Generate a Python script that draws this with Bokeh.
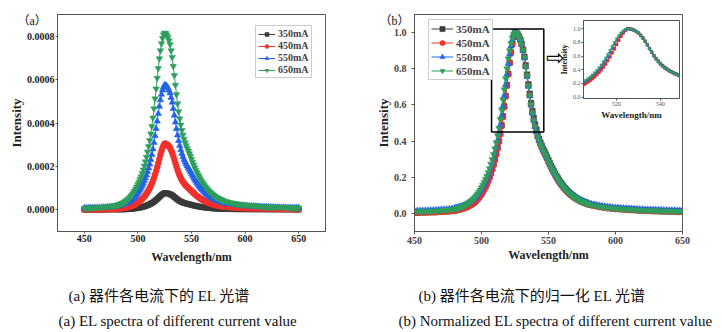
from bokeh.plotting import figure
from bokeh.models import (Range1d, Legend, LegendItem, Label, FixedTicker,
                          PrintfTickFormatter, ColumnDataSource, GridBox)
from bokeh.embed import file_html
from bokeh.resources import INLINE

# ---------------- data ----------------
wl_left_tail = list(range(450, 480, 2))
wl_mid = list(range(480, 581))
wl_right_tail = list(range(582, 651, 2))
wavelength = wl_left_tail + wl_mid + wl_right_tail

currents = ["350mA", "450mA", "550mA", "650mA"]
peak_intensity = [0.000077, 0.000305, 0.000575, 0.000815]

# normalized EL spectra (right panel); raw spectra = normalized * peak intensity
norm_350 = [
    0.005, 0.005, 0.006, 0.006, 0.006, 0.007, 0.007, 0.008, 0.008, 0.009, 0.010, 0.011, 0.012, 0.013, 0.015,
    0.017, 0.018, 0.020, 0.022, 0.024, 0.026, 0.028, 0.031, 0.034, 0.037,
    0.041, 0.045, 0.049, 0.054, 0.059, 0.065, 0.072, 0.080, 0.089, 0.099,
    0.110, 0.122, 0.135, 0.149, 0.165, 0.183, 0.202, 0.223, 0.246, 0.272,
    0.300, 0.331, 0.364, 0.401, 0.442, 0.487, 0.537, 0.592, 0.650, 0.710,
    0.772, 0.833, 0.890, 0.938, 0.976, 1.000, 0.998, 0.991, 0.978, 0.960,
    0.938, 0.905, 0.867, 0.819, 0.768, 0.714, 0.662, 0.611, 0.566, 0.527,
    0.492, 0.462, 0.435, 0.412, 0.392, 0.374, 0.357, 0.342, 0.326, 0.310,
    0.294, 0.278, 0.262, 0.247, 0.233, 0.219, 0.206, 0.194, 0.182, 0.171,
    0.161, 0.151, 0.142, 0.134, 0.126, 0.118, 0.111, 0.105, 0.099, 0.093,
    0.088, 0.083, 0.078, 0.074, 0.070, 0.066, 0.063, 0.060, 0.057, 0.054,
    0.052,
    0.048, 0.045, 0.042, 0.039, 0.036, 0.034, 0.032, 0.030, 0.028, 0.027,
    0.026, 0.025, 0.024, 0.023, 0.022, 0.021, 0.020, 0.019, 0.018, 0.017,
    0.016, 0.016, 0.015, 0.015, 0.014, 0.014, 0.013, 0.013, 0.012, 0.012,
    0.011, 0.011, 0.011, 0.010, 0.010,
]
norm_450 = [
    0.004, 0.004, 0.005, 0.005, 0.005, 0.006, 0.006, 0.007, 0.007, 0.008, 0.009, 0.010, 0.011, 0.012, 0.014,
    0.016, 0.017, 0.019, 0.021, 0.023, 0.025, 0.027, 0.030, 0.033, 0.036,
    0.040, 0.044, 0.048, 0.053, 0.058, 0.064, 0.071, 0.079, 0.088, 0.098,
    0.109, 0.121, 0.134, 0.148, 0.163, 0.180, 0.199, 0.220, 0.243, 0.268,
    0.296, 0.326, 0.359, 0.396, 0.437, 0.482, 0.532, 0.587, 0.645, 0.705,
    0.768, 0.830, 0.888, 0.937, 0.975, 1.000, 0.998, 0.990, 0.977, 0.958,
    0.935, 0.901, 0.862, 0.813, 0.761, 0.706, 0.653, 0.601, 0.556, 0.516,
    0.481, 0.450, 0.423, 0.400, 0.380, 0.362, 0.346, 0.331, 0.316, 0.300,
    0.284, 0.268, 0.252, 0.237, 0.223, 0.210, 0.197, 0.185, 0.174, 0.163,
    0.153, 0.144, 0.135, 0.127, 0.119, 0.112, 0.105, 0.099, 0.093, 0.088,
    0.083, 0.078, 0.074, 0.070, 0.066, 0.063, 0.060, 0.057, 0.054, 0.051,
    0.049,
    0.045, 0.042, 0.039, 0.036, 0.034, 0.032, 0.030, 0.028, 0.026, 0.025,
    0.024, 0.023, 0.022, 0.021, 0.020, 0.019, 0.018, 0.017, 0.016, 0.016,
    0.015, 0.014, 0.014, 0.013, 0.013, 0.012, 0.012, 0.011, 0.011, 0.010,
    0.010, 0.010, 0.009, 0.009, 0.009,
]
norm_550 = [
    0.015, 0.015, 0.015, 0.016, 0.016, 0.017, 0.017, 0.018, 0.019, 0.020, 0.021, 0.022, 0.023, 0.025, 0.027,
    0.029, 0.031, 0.033, 0.035, 0.037, 0.039, 0.042, 0.045, 0.048, 0.052,
    0.056, 0.061, 0.066, 0.072, 0.078, 0.085, 0.093, 0.102, 0.112, 0.123,
    0.135, 0.148, 0.162, 0.177, 0.194, 0.212, 0.232, 0.254, 0.278, 0.305,
    0.334, 0.366, 0.402, 0.442, 0.487, 0.538, 0.593, 0.650, 0.710, 0.770,
    0.828, 0.880, 0.925, 0.960, 0.985, 1.000, 0.998, 0.990, 0.977, 0.958,
    0.935, 0.900, 0.860, 0.810, 0.757, 0.702, 0.649, 0.598, 0.553, 0.514,
    0.480, 0.451, 0.425, 0.403, 0.384, 0.367, 0.351, 0.337, 0.322, 0.306,
    0.290, 0.274, 0.258, 0.243, 0.229, 0.216, 0.203, 0.191, 0.180, 0.170,
    0.160, 0.151, 0.142, 0.134, 0.126, 0.119, 0.112, 0.106, 0.100, 0.095,
    0.090, 0.085, 0.081, 0.077, 0.073, 0.070, 0.067, 0.064, 0.061, 0.058,
    0.056,
    0.052, 0.049, 0.046, 0.043, 0.041, 0.039, 0.037, 0.035, 0.033, 0.032,
    0.031, 0.030, 0.029, 0.028, 0.027, 0.026, 0.025, 0.024, 0.023, 0.023,
    0.022, 0.021, 0.021, 0.020, 0.020, 0.019, 0.019, 0.018, 0.018, 0.017,
    0.017, 0.017, 0.016, 0.016, 0.016,
]
norm_650 = [
    0.010, 0.010, 0.010, 0.011, 0.011, 0.012, 0.012, 0.013, 0.014, 0.015, 0.016, 0.017, 0.019, 0.021, 0.023,
    0.025, 0.027, 0.029, 0.031, 0.033, 0.036, 0.039, 0.042, 0.046, 0.050,
    0.055, 0.060, 0.066, 0.073, 0.080, 0.088, 0.097, 0.107, 0.118, 0.130,
    0.143, 0.157, 0.172, 0.188, 0.206, 0.226, 0.248, 0.272, 0.298, 0.327,
    0.358, 0.392, 0.430, 0.472, 0.520, 0.572, 0.628, 0.684, 0.745, 0.800,
    0.855, 0.900, 0.940, 0.970, 0.990, 1.000, 0.997, 0.988, 0.975, 0.957,
    0.935, 0.900, 0.862, 0.812, 0.760, 0.705, 0.652, 0.600, 0.555, 0.515,
    0.480, 0.450, 0.423, 0.400, 0.380, 0.363, 0.347, 0.333, 0.318, 0.302,
    0.286, 0.270, 0.254, 0.239, 0.225, 0.212, 0.199, 0.187, 0.176, 0.165,
    0.155, 0.146, 0.137, 0.129, 0.121, 0.114, 0.107, 0.101, 0.095, 0.090,
    0.085, 0.080, 0.076, 0.072, 0.068, 0.065, 0.062, 0.059, 0.056, 0.053,
    0.051,
    0.047, 0.044, 0.041, 0.038, 0.036, 0.034, 0.032, 0.030, 0.028, 0.027,
    0.026, 0.025, 0.024, 0.023, 0.022, 0.021, 0.020, 0.019, 0.018, 0.018,
    0.017, 0.016, 0.016, 0.015, 0.015, 0.014, 0.014, 0.013, 0.013, 0.012,
    0.012, 0.012, 0.011, 0.011, 0.011,
]
normalized = [norm_350, norm_450, norm_550, norm_650]
for n in normalized:
    assert len(n) == len(wavelength), (len(n), len(wavelength))

raw = [[v * pk for v in n] for n, pk in zip(normalized, peak_intensity)]

# zoomed region shown by the black box and the inset
zoom_wavelength = [507.5, 546.5]
zoom_intensity = [0.45, 1.02]

x_ticks = [450, 500, 550, 600, 650]
ya_ticks = [0.0, 0.0002, 0.0004, 0.0006, 0.0008]
yb_ticks = [0.0, 0.2, 0.4, 0.6, 0.8, 1.0]
inset_x_ticks = [520, 540]

caption_a = ["(a) 器件各电流下的 EL 光谱", "(a) EL spectra of different current value"]
caption_b = ["(b) 器件各电流下的归一化 EL 光谱", "(b) Normalized EL spectra of different current value"]

# ---------------- style ----------------
SERIF = "Liberation Serif"
MIXED = "Liberation Serif, Noto Sans CJK SC"
AXC = "#555555"
colors = ["#3a3a3a", "#f2302b", "#2063e8", "#2f9e5c"]
markers = ["square", "circle", "triangle", "inverted_triangle"]


def style_axes(p, tick_font, label_font, tick_color, tick_out, standoff, label_standoff):
    p.grid.visible = False
    p.outline_line_color = AXC
    p.outline_line_width = 1
    p.background_fill_color = "white"
    for ax in (p.xaxis[0], p.yaxis[0]):
        ax.axis_line_color = AXC
        ax.major_tick_line_color = AXC
        ax.major_tick_in = 0
        ax.major_tick_out = tick_out
        ax.minor_tick_line_color = None
        ax.major_label_text_font = SERIF
        ax.major_label_text_font_style = "bold"
        ax.major_label_text_font_size = tick_font
        ax.major_label_text_color = tick_color
        ax.major_label_standoff = standoff
        ax.axis_label_text_font = SERIF
        ax.axis_label_text_font_style = "bold"
        ax.axis_label_text_font_size = label_font
        ax.axis_label_text_color = "#222222"
        ax.axis_label_standoff = label_standoff


def add_series(p, ys, sizes, lw):
    out = []
    for i in range(4):
        src = ColumnDataSource(dict(x=wavelength, y=ys[i]))
        ln = p.line("x", "y", source=src, line_color=colors[i], line_width=lw)
        sc = p.scatter("x", "y", source=src, marker=markers[i], size=sizes[i],
                       fill_color=colors[i], line_color=colors[i], line_width=0.5)
        out.append((ln, sc))
    return out


def add_legend(p, rends, loc, font, gw, gh, spacing, padding):
    items = [LegendItem(label=currents[i], renderers=list(rends[i])) for i in range(4)]
    lg = Legend(items=items, location=loc, label_text_font=SERIF, label_text_font_style="bold",
                label_text_font_size=font, glyph_width=gw, glyph_height=gh, label_height=gh,
                spacing=spacing, padding=padding, margin=0, label_standoff=3,
                border_line_color="#999999", border_line_width=1, background_fill_alpha=1)
    p.add_layout(lg)


# ---------------- panel (a) ----------------
pa = figure(width=360, height=332, x_range=Range1d(425, 675), y_range=Range1d(-0.0001, 0.0009),
            output_backend="svg", toolbar_location=None,
            min_border_left=57, min_border_right=35, min_border_top=14, min_border_bottom=100)
style_axes(pa, "10px", "13px", "#222222", 2, 1, 0)
pa.xaxis.axis_label_standoff = 5
pa.xaxis.axis_label_text_font_size = "12px"
pa.xaxis.axis_label = "Wavelength/nm"
pa.yaxis.axis_label = "Intensity"
pa.xaxis.ticker = FixedTicker(ticks=x_ticks)
pa.yaxis.ticker = FixedTicker(ticks=ya_ticks)
pa.yaxis.formatter = PrintfTickFormatter(format="%.4f")
ra = add_series(pa, raw, [5, 6, 6.5, 6.5], 1)
add_legend(pa, ra, (198, 153), "10px", 17, 10, 1, 2)

# ---------------- panel (b) ----------------
pb = figure(width=362, height=332, x_range=Range1d(450, 650), y_range=Range1d(-0.1, 1.1),
            output_backend="svg", toolbar_location=None,
            min_border_left=54, min_border_right=40, min_border_top=14, min_border_bottom=101)
style_axes(pb, "10px", "13px", "#444444", 3, 5, 0)
pb.xaxis.major_label_standoff = 2
pb.xaxis.axis_label_standoff = 1
pb.xaxis.axis_label_text_font_size = "12px"
pb.xaxis.axis_label = "Wavelength/nm"
pb.yaxis.axis_label = "Intensity"
pb.xaxis.ticker = FixedTicker(ticks=x_ticks)
pb.yaxis.ticker = FixedTicker(ticks=yb_ticks)
pb.yaxis.formatter = PrintfTickFormatter(format="%.1f")
rb = add_series(pb, normalized, [5.5, 6, 6.5, 6.5], 1)
add_legend(pb, rb, (14, 151), "11px", 22, 13, 1, 2)
pb.quad(left=[zoom_wavelength[0]], right=[zoom_wavelength[1]],
        bottom=[zoom_intensity[0]], top=[zoom_intensity[1]],
        fill_alpha=0, line_color="black", line_width=1.5)
pb.add_layout(Label(x=555, y=0.86, text="⇨", text_font="DejaVu Sans", text_font_size="22px",
                    text_align="center", text_baseline="middle", text_color="black"))

# ---------------- inset ----------------
pi = figure(width=125, height=110, x_range=Range1d(505, 548.6), y_range=Range1d(-0.02, 1.12),
            output_backend="svg", toolbar_location=None,
            min_border_left=28, min_border_right=1, min_border_top=6, min_border_bottom=26)
pi.border_fill_alpha = 0
style_axes(pi, "6px", "9px", "#555555", 2, 1, 1)
pi.xaxis.axis_label = "Wavelength/nm"
pi.yaxis.axis_label = "Intensity"
pi.yaxis.axis_label_text_font_size = "8px"
pi.xaxis.major_label_text_font_style = "normal"
pi.yaxis.major_label_text_font_style = "normal"
pi.xaxis.ticker = FixedTicker(ticks=inset_x_ticks)
pi.yaxis.ticker = FixedTicker(ticks=yb_ticks)
pi.yaxis.formatter = PrintfTickFormatter(format="%.1f")
add_series(pi, normalized, [2.5, 3, 3, 3], 0.6)

# ---------------- text layer (panel letters and captions) ----------------
pt = figure(width=722, height=332, x_range=Range1d(0, 1), y_range=Range1d(0, 1),
            x_axis_location=None, y_axis_location=None, output_backend="svg",
            toolbar_location=None, min_border=0, outline_line_color=None,
            background_fill_alpha=0, border_fill_alpha=0)
pt.grid.visible = False
texts = [
    ("（a）", 17, 312, "12px"), ("（b）", 379, 312, "12px"),
    (caption_a[0], 68, 37, "15px"), (caption_a[1], 58, 12, "15px"),
    (caption_b[0], 418, 37, "15px"), (caption_b[1], 398, 12, "15px"),
]
for t, x, y, fs in texts:
    pt.add_layout(Label(x=x, y=y, x_units="screen", y_units="screen", text=t,
                        text_font=MIXED, text_font_size=fs, text_baseline="middle",
                        text_color="#111111"))

# tracks: zero-size outer tracks give the text layer its own grid lines
layout = GridBox(
    children=[(pa, 1, 1, 3, 1), (pb, 1, 2, 3, 3), (pi, 2, 3, 1, 1), (pt, 0, 0, 5, 6)],
    rows=["0px", "14px", "110px", "208px", "0px"],
    cols=["0px", "360px", "195px", "125px", "42px", "0px"],
)
open("out.html", "w").write(file_html(layout, INLINE))
